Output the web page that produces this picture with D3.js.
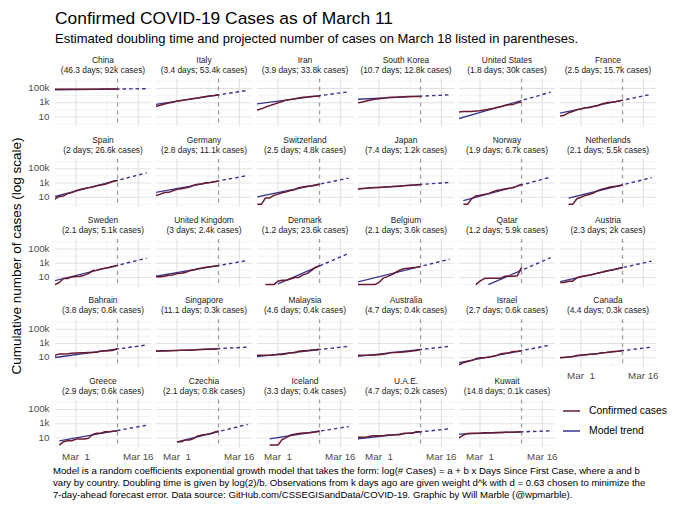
<!DOCTYPE html>
<html>
<head>
<meta charset="utf-8">
<script src="https://cdn.jsdelivr.net/npm/d3@7"></script>
<style>
  body { margin: 0; background: #fff; }
  svg { font-family: "Liberation Sans", Arial, sans-serif; }
  .pre { white-space: pre; }
</style>
</head>
<body>
<div id="chart"></div>
<script>
"use strict";

// панели идут слева направо, сверху вниз
var countries = ["China", "Italy", "Iran", "South Korea", "United States", "France",
  "Spain", "Germany", "Switzerland", "Japan", "Norway", "Netherlands",
  "Sweden", "United Kingdom", "Denmark", "Belgium", "Qatar", "Austria",
  "Bahrain", "Singapore", "Malaysia", "Australia", "Israel", "Canada",
  "Greece", "Czechia", "Iceland", "U.A.E.", "Kuwait"];

var doublingDays = [46.3, 3.4, 3.9, 10.7, 1.8, 2.5,
  2, 2.8, 2.5, 7.4, 1.9, 2.1,
  2.1, 3, 1.2, 2.1, 1.2, 2.3,
  3.8, 11.1, 4.6, 4.7, 2.7, 4.4,
  2.9, 2.1, 3.3, 4.7, 14.8];

// projected cases on March 18 (also the end of the model trend)
var projectedMar18 = [92000, 53400, 33800, 12800, 30000, 15700,
  26600, 11100, 4800, 1200, 6700, 5500,
  5100, 2400, 23600, 3600, 5900, 2000,
  600, 300, 400, 400, 600, 300,
  600, 800, 400, 200, 100];

// first day of each confirmed series, one value per day up to March 11
var firstDates = ["2020-02-24", "2020-02-24", "2020-02-24", "2020-02-24", "2020-02-24", "2020-02-24",
  "2020-02-24", "2020-02-24", "2020-02-25", "2020-02-24", "2020-02-26", "2020-02-27",
  "2020-02-24", "2020-02-24", "2020-02-27", "2020-02-24", "2020-02-29", "2020-02-25",
  "2020-02-24", "2020-02-24", "2020-02-24", "2020-02-24", "2020-02-24", "2020-02-24",
  "2020-02-26", "2020-03-01", "2020-02-28", "2020-02-24", "2020-02-24"];

var confirmedCases = [
  [77241, 77754, 78166, 78600, 78928, 79356, 79932, 80136, 80261, 80386, 80537, 80690, 80770, 80823, 80860, 80887, 80921],
  [229, 322, 453, 655, 888, 1128, 1694, 2036, 2502, 3089, 3858, 4636, 5883, 7375, 9172, 10149, 12462],
  [61, 95, 139, 245, 388, 593, 978, 1501, 2336, 2922, 3513, 4747, 5823, 6566, 7161, 8042, 9000],
  [833, 977, 1261, 1766, 2337, 3150, 3736, 4335, 5186, 5621, 6088, 6593, 7041, 7314, 7478, 7513, 7755],
  [51, 51, 57, 58, 60, 68, 74, 98, 118, 149, 217, 262, 402, 518, 583, 959, 1281],
  [12, 14, 18, 38, 57, 100, 130, 191, 204, 288, 380, 656, 957, 1134, 1217, 1792, 2289],
  [2, 6, 13, 15, 32, 45, 84, 120, 165, 222, 259, 400, 500, 673, 1073, 1695, 2277],
  [16, 17, 27, 46, 48, 79, 130, 159, 196, 262, 482, 670, 799, 1040, 1176, 1457, 1908],
  [1, 1, 8, 8, 18, 27, 42, 56, 90, 114, 214, 268, 337, 374, 491, 652],
  [144, 144, 164, 186, 210, 230, 239, 254, 268, 284, 317, 349, 408, 455, 488, 514, 568],
  [1, 1, 6, 15, 19, 25, 32, 56, 87, 108, 147, 176, 205, 400, 598],
  [1, 1, 6, 10, 18, 24, 38, 82, 128, 188, 265, 321, 382, 503],
  [1, 1, 2, 7, 7, 12, 14, 15, 21, 35, 94, 101, 161, 203, 248, 355, 500],
  [13, 13, 13, 15, 20, 23, 36, 40, 51, 85, 115, 163, 206, 273, 321, 382, 456],
  [1, 1, 1, 3, 4, 4, 6, 10, 10, 23, 35, 90, 262, 442],
  [1, 1, 1, 1, 1, 1, 2, 8, 13, 23, 50, 109, 169, 200, 239, 267, 314],
  [1, 3, 7, 8, 8, 8, 8, 15, 15, 15, 18, 262],
  [2, 2, 3, 3, 9, 14, 18, 21, 29, 41, 55, 79, 104, 131, 182, 246],
  [1, 23, 33, 33, 36, 41, 47, 49, 49, 52, 55, 60, 85, 85, 95, 110, 195],
  [89, 91, 93, 93, 93, 102, 106, 108, 110, 110, 117, 130, 138, 150, 150, 160, 178],
  [22, 22, 22, 23, 23, 25, 29, 29, 36, 50, 50, 83, 93, 99, 117, 129, 149],
  [22, 22, 22, 23, 23, 25, 27, 30, 39, 52, 55, 60, 63, 76, 91, 107, 128],
  [1, 1, 2, 3, 4, 7, 10, 10, 12, 15, 20, 37, 43, 50, 75, 75, 100],
  [10, 11, 11, 13, 14, 20, 24, 27, 30, 33, 37, 49, 54, 64, 77, 79, 108],
  [1, 3, 4, 4, 7, 7, 7, 9, 31, 45, 46, 73, 73, 89, 99],
  [3, 3, 5, 5, 8, 19, 26, 32, 38, 63, 94],
  [1, 1, 1, 6, 11, 26, 34, 43, 50, 50, 58, 69, 85],
  [13, 13, 13, 13, 19, 21, 21, 21, 27, 27, 29, 29, 45, 45, 45, 74, 74],
  [1, 11, 26, 43, 45, 45, 45, 56, 56, 56, 58, 58, 61, 64, 64, 69, 72]
];

// model trend: where it starts; it ends at projectedMar18
var trendStartDates = ["2020-02-24", "2020-02-24", "2020-02-24", "2020-02-24", "2020-02-24", "2020-02-24",
  "2020-02-24", "2020-02-24", "2020-02-25", "2020-02-24", "2020-02-26", "2020-02-27",
  "2020-02-24", "2020-02-24", "2020-03-01", "2020-02-24", "2020-03-03", "2020-02-25",
  "2020-02-24", "2020-02-24", "2020-02-24", "2020-02-24", "2020-02-24", "2020-02-24",
  "2020-02-26", "2020-03-01", "2020-02-28", "2020-02-24", "2020-02-24"];
var trendStartValues = [65000, 490, 570, 2900, 4.3, 27,
  9.2, 37, 10.8, 140, 3.2, 7.5,
  2.6, 11.8, 1.3, 1.8, 1.0, 2.6,
  9, 71, 12.5, 13.5, 1.6, 8,
  4, 2.9, 7.4, 6.7, 34];

var lastObserved = "2020-03-11";
var projectionDate = "2020-03-18";
var dateTicks = ["2020-03-01", "2020-03-16"];
var dateTickLabels = ["Mar  1", "Mar 16"];
var minorDateTicks = ["2020-03-08T12"];
var caseTicks = [10, 1000, 100000];
var caseTickLabels = ["10", "1k", "100k"];
var minorCaseTicks = [1, 100, 10000, 1000000];

var captionLines = [
  "Model is a random coefficients exponential growth model that takes the form: log(# Cases) = a + b x Days Since First Case, where a and b",
  "vary by country. Doubling time is given by log(2)/b. Observations from k days ago are given weight d^k with d = 0.63 chosen to minimize the",
  "7-day-ahead forecast error. Data source: GitHub.com/CSSEGISandData/COVID-19. Graphic by Will Marble (@wpmarble)."
];

var redColor = "#6b1a30";
var blueColor = "#35348e";

var parseDay = d3.utcParse("%Y-%m-%d");
var parseHour = d3.utcParse("%Y-%m-%dT%H");

var width = 680, height = 510;
var panelW = 96, panelH = 48;
var colStep = 101, rowStep = 80.25;
var left0 = 55, top0 = 78.5;
var nCols = 6;

var svg = d3.select("#chart")
  .append("svg")
  .attr("width", width)
  .attr("height", height);

// x: Feb 26 .. Mar 18 plus 5% padding, y: log
var scaleX = d3.scaleUtc()
  .domain([new Date(Date.UTC(2020, 1, 24, 22, 48)), new Date(Date.UTC(2020, 2, 19, 1, 12))])
  .range([0, panelW]);
var scaleY = d3.scaleLog()
  .domain([0.46, 2.5e6])
  .range([panelH, 0]);

var xCut = scaleX(parseDay(lastObserved));

var defs = svg.append("defs");
defs.append("clipPath").attr("id", "clip-panel")
  .append("rect").attr("x", 0).attr("y", 0).attr("width", panelW).attr("height", panelH);
defs.append("clipPath").attr("id", "clip-past")
  .append("rect").attr("x", 0).attr("y", 0).attr("width", xCut).attr("height", panelH);
defs.append("clipPath").attr("id", "clip-future")
  .append("rect").attr("x", xCut).attr("y", 0).attr("width", panelW - xCut).attr("height", panelH);

// titles
svg.append("text")
  .attr("x", 55).attr("y", 24)
  .attr("font-size", 17.4)
  .attr("fill", "#000")
  .text("Confirmed COVID-19 Cases as of March 11");
svg.append("text")
  .attr("x", 55).attr("y", 43)
  .attr("font-size", 13)
  .attr("fill", "#000")
  .text("Estimated doubling time and projected number of cases on March 18 listed in parentheses.");

svg.append("text")
  .attr("transform", "translate(17, 256) rotate(-90)")
  .attr("text-anchor", "middle")
  .attr("dominant-baseline", "middle")
  .attr("font-size", 13.5)
  .attr("fill", "#000")
  .text("Cumulative number of cases (log scale)");

var line = d3.line()
  .x(function(d) { return scaleX(d.date); })
  .y(function(d) { return scaleY(d.value); });

function fmtNum(v) {
  return String(Math.round(v * 10) / 10);
}

countries.forEach(function(name, i) {
  var col = i % nCols;
  var row = Math.floor(i / nCols);
  var g = svg.append("g")
    .attr("transform", "translate(" + (left0 + col * colStep) + "," + (top0 + row * rowStep) + ")");

  // grid
  g.selectAll(".minor-h").data(minorCaseTicks).enter().append("line")
    .attr("x1", 0).attr("x2", panelW)
    .attr("y1", function(d) { return scaleY(d); })
    .attr("y2", function(d) { return scaleY(d); })
    .attr("stroke", "#ebebeb").attr("stroke-width", 0.6);
  g.selectAll(".minor-v").data(minorDateTicks).enter().append("line")
    .attr("y1", 0).attr("y2", panelH)
    .attr("x1", function(d) { return scaleX(parseHour(d)); })
    .attr("x2", function(d) { return scaleX(parseHour(d)); })
    .attr("stroke", "#ebebeb").attr("stroke-width", 0.6);
  g.selectAll(".major-h").data(caseTicks).enter().append("line")
    .attr("x1", 0).attr("x2", panelW)
    .attr("y1", function(d) { return scaleY(d); })
    .attr("y2", function(d) { return scaleY(d); })
    .attr("stroke", "#e1e1e1").attr("stroke-width", 1.1);
  g.selectAll(".major-v").data(dateTicks).enter().append("line")
    .attr("y1", 0).attr("y2", panelH)
    .attr("x1", function(d) { return scaleX(parseDay(d)); })
    .attr("x2", function(d) { return scaleX(parseDay(d)); })
    .attr("stroke", "#e1e1e1").attr("stroke-width", 1.1);

  // last observed day
  g.append("line")
    .attr("x1", xCut).attr("x2", xCut)
    .attr("y1", 0).attr("y2", panelH)
    .attr("stroke", "#9e9e9e")
    .attr("stroke-width", 1.3)
    .attr("stroke-dasharray", "4,4");

  // strip
  g.append("text")
    .attr("x", panelW / 2).attr("y", -18)
    .attr("text-anchor", "middle").attr("dominant-baseline", "middle")
    .attr("font-size", 8.4).attr("fill", "#1a1a1a")
    .text(name);
  g.append("text")
    .attr("x", panelW / 2).attr("y", -8)
    .attr("text-anchor", "middle").attr("dominant-baseline", "middle")
    .attr("font-size", 8.4).attr("fill", "#1a1a1a")
    .text("(" + fmtNum(doublingDays[i]) + " days; " + fmtNum(projectedMar18[i] / 1000) + "k cases)");

  // model trend, solid up to Mar 11 and dotted after
  var trend = [
    { date: parseDay(trendStartDates[i]), value: trendStartValues[i] },
    { date: parseDay(projectionDate), value: projectedMar18[i] }
  ];
  g.append("g").attr("clip-path", "url(#clip-panel)")
    .append("path")
    .attr("d", line(trend))
    .attr("clip-path", "url(#clip-past)")
    .attr("fill", "none")
    .attr("stroke", blueColor)
    .attr("stroke-width", 1.3);
  g.append("path")
    .attr("d", line(trend))
    .attr("clip-path", "url(#clip-future)")
    .attr("fill", "none")
    .attr("stroke", blueColor)
    .attr("stroke-width", 1.4)
    .attr("stroke-dasharray", "3.5,3");

  // confirmed cases
  var start = parseDay(firstDates[i]);
  var series = confirmedCases[i].map(function(v, k) {
    return { date: d3.utcDay.offset(start, k), value: v };
  });
  g.append("path")
    .attr("d", line(series))
    .attr("clip-path", "url(#clip-panel)")
    .attr("fill", "none")
    .attr("stroke", redColor)
    .attr("stroke-width", 1.5)
    .attr("stroke-linejoin", "round");

  // y labels only on the first column
  if (col === 0) {
    g.selectAll(".ylab").data(caseTicks).enter().append("text")
      .attr("x", -5.5)
      .attr("y", function(d) { return scaleY(d); })
      .attr("text-anchor", "end").attr("dominant-baseline", "middle")
      .attr("font-size", 9.8).attr("fill", "#4d4d4d")
      .text(function(d, k) { return caseTickLabels[k]; });
  }

  // x labels only where nothing sits below
  if (i + nCols >= countries.length) {
    g.selectAll(".xlab").data(dateTicks).enter().append("text")
      .attr("class", "pre")
      .attr("x", function(d) { return scaleX(parseDay(d)); })
      .attr("y", panelH + 9.5)
      .attr("text-anchor", "middle").attr("dominant-baseline", "middle")
      .attr("font-size", 9.8).attr("fill", "#4d4d4d")
      .text(function(d, k) { return dateTickLabels[k]; });
  }
});

// legend
var legendItems = [["Confirmed cases", redColor], ["Model trend", blueColor]];
var legend = svg.append("g").attr("transform", "translate(563, 411)");
legendItems.forEach(function(d, k) {
  legend.append("line")
    .attr("x1", 0).attr("x2", 17)
    .attr("y1", k * 20).attr("y2", k * 20)
    .attr("stroke", d[1]).attr("stroke-width", 1.5);
  legend.append("text")
    .attr("x", 26).attr("y", k * 20)
    .attr("dominant-baseline", "middle")
    .attr("font-size", 10.4).attr("fill", "#000")
    .text(d[0]);
});

// caption
svg.append("g").selectAll("text")
  .data(captionLines)
  .enter().append("text")
  .attr("x", 53)
  .attr("y", function(d, k) { return 474 + k * 12; })
  .attr("font-size", 9.6)
  .attr("fill", "#000")
  .text(function(d) { return d; });
</script>
</body>
</html>
